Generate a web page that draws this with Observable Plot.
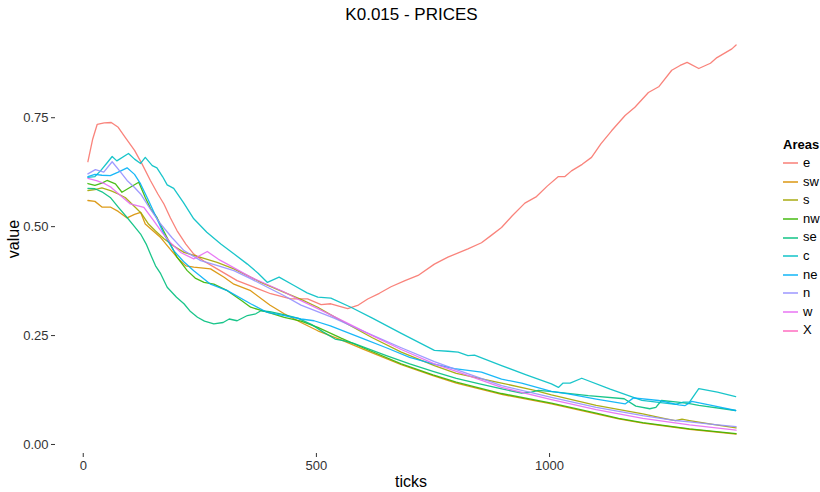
<!DOCTYPE html>
<html>
<head>
<meta charset="utf-8">
<script src="https://cdn.jsdelivr.net/npm/d3@7"></script>
<script src="https://cdn.jsdelivr.net/npm/@observablehq/plot@0.6"></script>
<style>
  html, body { margin: 0; padding: 0; background: #fff; }
  #wrap { position: relative; width: 820px; height: 492px; font-family: "Liberation Sans", Arial, sans-serif; }
  #title { position: absolute; left: 55px; width: 713px; top: 5px; text-align: center; font-size: 17px; color: #000; }
  #ylab { position: absolute; left: 14px; top: 239px; transform: translate(-50%, -50%) rotate(-90deg); font-size: 16px; color: #000; }
  #xlab { position: absolute; left: 411px; top: 482px; transform: translate(-50%, -50%); font-size: 16px; color: #000; }
  #legend { position: absolute; left: 783px; top: 135px; font-size: 13px; color: #000; }
  #legend .ttl { font-weight: bold; height: 19px; line-height: 19px; }
  #legend .it { height: 18.6px; line-height: 18.6px; display: flex; align-items: center; }
  #legend svg { margin-right: 5px; }
  svg.plot text { font-family: "Liberation Sans", Arial, sans-serif; }
</style>
</head>
<body>
<div id="wrap">
  <div id="chart"></div>
  <div id="title">K0.015 - PRICES</div>
  <div id="ylab">value</div>
  <div id="xlab">ticks</div>
  <div id="legend"></div>
</div>
<script>
const areas = ["e", "sw", "s", "nw", "se", "c", "ne", "n", "w", "X"];
const colors = ["#F8766D", "#D89000", "#A3A500", "#39B600", "#00BF7D", "#00BFC4", "#00B0F6", "#9590FF", "#E76BF3", "#FF62BC"];
const xTicks = [0, 500, 1000];
const yTicks = [0, 0.25, 0.5, 0.75];

const e = [[10,0.649],[20,0.70],[30,0.735],[45,0.738],[60,0.739],[75,0.728],[90,0.705],[110,0.675],[126,0.644],[144,0.606],[160,0.575],[173,0.552],[187,0.52],[201,0.491],[220,0.46],[237,0.437],[260,0.42],[287,0.403],[330,0.376],[366,0.361],[402,0.346],[445,0.334],[481,0.334],[510,0.321],[531,0.323],[567,0.312],[590,0.32],[610,0.334],[635,0.347],[660,0.362],[690,0.376],[718,0.388],[753,0.414],[782,0.43],[825,0.449],[854,0.463],[875,0.48],[897,0.498],[920,0.525],[947,0.554],[972,0.569],[995,0.593],[1019,0.615],[1033,0.615],[1047,0.628],[1070,0.643],[1090,0.659],[1110,0.69],[1133,0.72],[1162,0.755],[1183,0.774],[1212,0.808],[1234,0.821],[1262,0.859],[1280,0.87],[1295,0.877],[1320,0.863],[1345,0.875],[1359,0.888],[1391,0.908],[1400,0.917]];
const sw = [[10,0.56],[25,0.558],[40,0.545],[58,0.545],[75,0.535],[94,0.52],[110,0.528],[123,0.533],[133,0.506],[150,0.49],[166,0.475],[185,0.45],[205,0.425],[220,0.41],[237,0.407],[273,0.403],[302,0.384],[323,0.368],[359,0.353],[400,0.32],[431,0.30],[467,0.28],[503,0.261],[553,0.24],[600,0.219],[682,0.183],[750,0.158],[800,0.141],[897,0.115],[1004,0.093],[1100,0.07],[1148,0.059],[1200,0.049],[1300,0.035],[1400,0.024]];
const s = [[10,0.583],[25,0.585],[40,0.589],[60,0.582],[75,0.575],[90,0.567],[112,0.544],[125,0.53],[140,0.506],[155,0.49],[173,0.472],[195,0.455],[216,0.441],[250,0.43],[287,0.418],[323,0.403],[359,0.384],[381,0.372],[431,0.349],[467,0.333],[503,0.315],[530,0.298],[574,0.272],[620,0.245],[682,0.212],[753,0.181],[800,0.163],[897,0.141],[968,0.124],[1004,0.114],[1100,0.09],[1200,0.07],[1250,0.059],[1270,0.055],[1284,0.058],[1300,0.055],[1350,0.046],[1400,0.038]];
const nw = [[10,0.599],[25,0.595],[40,0.6],[51,0.606],[69,0.598],[83,0.579],[100,0.59],[119,0.602],[133,0.567],[145,0.54],[158,0.521],[170,0.495],[183,0.468],[201,0.43],[223,0.399],[240,0.382],[259,0.372],[280,0.368],[309,0.353],[340,0.33],[359,0.315],[400,0.302],[431,0.292],[467,0.283],[503,0.269],[553,0.244],[600,0.222],[682,0.185],[750,0.16],[800,0.143],[897,0.117],[1004,0.095],[1100,0.072],[1148,0.06],[1200,0.05],[1300,0.036],[1400,0.025]];
const se = [[10,0.588],[25,0.587],[40,0.58],[58,0.567],[75,0.545],[94,0.521],[110,0.5],[123,0.483],[135,0.46],[144,0.437],[155,0.41],[166,0.392],[180,0.361],[187,0.353],[200,0.338],[216,0.323],[230,0.305],[245,0.292],[260,0.283],[280,0.277],[300,0.28],[313,0.288],[330,0.284],[352,0.296],[370,0.30],[381,0.307],[400,0.305],[430,0.298],[460,0.29],[490,0.275],[515,0.258],[540,0.242],[560,0.238],[580,0.232],[600,0.224],[650,0.204],[700,0.185],[750,0.168],[800,0.152],[850,0.139],[900,0.127],[940,0.118],[961,0.12],[976,0.124],[1000,0.122],[1083,0.112],[1160,0.105],[1185,0.088],[1215,0.082],[1228,0.085],[1240,0.101],[1275,0.097],[1300,0.094],[1320,0.09],[1399,0.078]];
const c = [[10,0.613],[25,0.615],[37,0.628],[50,0.645],[62,0.661],[72,0.651],[97,0.668],[110,0.655],[123,0.645],[133,0.659],[148,0.64],[158,0.635],[170,0.615],[180,0.596],[194,0.588],[215,0.555],[237,0.518],[265,0.487],[295,0.46],[325,0.436],[352,0.414],[375,0.393],[395,0.372],[420,0.384],[452,0.365],[480,0.348],[503,0.338],[531,0.336],[574,0.315],[620,0.29],[682,0.255],[753,0.216],[782,0.214],[804,0.212],[825,0.204],[839,0.205],[897,0.181],[950,0.16],[1004,0.139],[1019,0.131],[1029,0.141],[1044,0.141],[1069,0.152],[1130,0.127],[1198,0.101],[1270,0.092],[1287,0.097],[1300,0.097],[1320,0.128],[1360,0.12],[1399,0.110]];
const ne = [[10,0.615],[25,0.62],[40,0.618],[58,0.617],[75,0.625],[94,0.635],[110,0.62],[123,0.598],[140,0.56],[155,0.525],[173,0.483],[194,0.445],[215,0.42],[237,0.399],[273,0.368],[309,0.353],[359,0.323],[395,0.303],[431,0.296],[467,0.288],[495,0.284],[530,0.272],[600,0.243],[650,0.222],[700,0.2],[750,0.185],[796,0.174],[854,0.166],[897,0.15],[940,0.141],[1004,0.122],[1040,0.116],[1100,0.104],[1162,0.093],[1180,0.107],[1234,0.101],[1277,0.091],[1290,0.089],[1305,0.099],[1350,0.089],[1399,0.078]];
const n = [[10,0.621],[26,0.631],[44,0.625],[62,0.649],[78,0.628],[94,0.606],[110,0.59],[123,0.575],[144,0.54],[166,0.506],[190,0.475],[216,0.445],[252,0.422],[290,0.41],[323,0.399],[360,0.38],[395,0.361],[430,0.342],[467,0.32],[538,0.29],[600,0.26],[682,0.222],[753,0.19],[800,0.172],[897,0.135],[1004,0.108],[1100,0.085],[1200,0.066],[1270,0.055],[1300,0.052],[1350,0.046],[1400,0.041]];
const w = [[10,0.611],[30,0.605],[47,0.598],[60,0.59],[76,0.575],[101,0.552],[130,0.544],[151,0.514],[170,0.485],[190,0.46],[210,0.44],[237,0.426],[266,0.443],[290,0.425],[309,0.414],[359,0.384],[431,0.35],[467,0.33],[503,0.312],[560,0.282],[620,0.25],[682,0.218],[753,0.185],[800,0.168],[897,0.131],[1004,0.103],[1100,0.08],[1200,0.06],[1300,0.045],[1400,0.033]];
const X = [];

const seriesByArea = {e, sw, s, nw, se, c, ne, n, w, X};
const rows = areas.flatMap(a => seriesByArea[a].map(([tick, value]) => ({area: a, tick, value})));

const chart = Plot.plot({
  width: 820,
  height: 492,
  marginLeft: 55,
  marginRight: 52,
  marginTop: 25,
  marginBottom: 39,
  style: {background: "#fff", fontSize: "13px", fontFamily: "Liberation Sans, Arial, sans-serif"},
  x: {domain: [-59.5, 1469.5]},
  y: {domain: [-0.0207, 0.9617]},
  color: {domain: areas, range: colors},
  marks: [
    Plot.axisX({ticks: xTicks, tickSize: 4, tickPadding: 3, label: null, tickFormat: d3.format("d"), stroke: "#333", color: "#333", fontSize: 13}),
    Plot.axisY({ticks: yTicks, tickSize: 4, tickPadding: 3, label: null, tickFormat: d3.format(".2f"), stroke: "#333", color: "#333", fontSize: 13}),
    Plot.line(rows, {x: "tick", y: "value", z: "area", stroke: "area", strokeWidth: 1.3, strokeOpacity: 0.9})
  ]
});
document.getElementById("chart").appendChild(chart);

const leg = document.getElementById("legend");
const t = document.createElement("div");
t.className = "ttl";
t.textContent = "Areas";
leg.appendChild(t);
areas.forEach((a, i) => {
  const row = document.createElement("div");
  row.className = "it";
  row.innerHTML = `<svg width="15" height="4"><line x1="0" y1="2" x2="15" y2="2" stroke="${colors[i]}" stroke-width="1.4"/></svg><span>${a}</span>`;
  leg.appendChild(row);
});
</script>
</body>
</html>
